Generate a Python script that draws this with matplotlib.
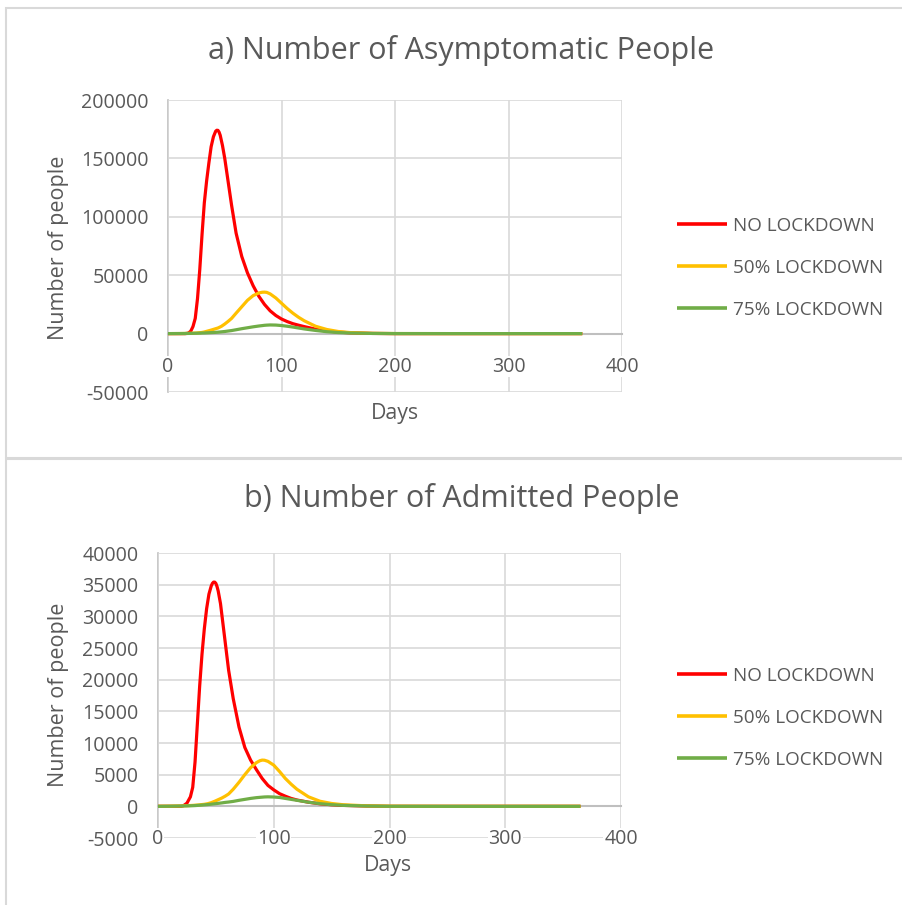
import matplotlib
matplotlib.use("Agg")
import matplotlib.pyplot as plt
from matplotlib.patches import Rectangle

# ---------------- data ----------------
series_names = ["NO LOCKDOWN", "50% LOCKDOWN", "75% LOCKDOWN"]
series_colors = ["#FF0000", "#FFC000", "#70AD47"]

# a) asymptomatic people
days_a_no = [0, 10, 15, 17, 18, 20, 22, 24, 26, 28, 30, 32, 34, 36, 38, 40, 42, 43, 44, 45,
             46, 48, 50, 53, 56, 60, 65, 70, 75, 80, 85, 90, 95, 100, 105, 110, 115, 120,
             130, 140, 150, 160, 180, 200, 250, 300, 365]
asym_no = [0, 0, 0, 200, 500, 2000, 6000, 13000, 30000, 55000, 85000, 112000, 130500,
           146000, 160000, 168500, 173300, 174100, 174000, 172500, 169800, 161000, 150000,
           130000, 110000, 86000, 66000, 52000, 41000, 32000, 25000, 19500, 15500, 12500,
           10300, 8500, 7200, 6000, 3800, 2300, 1300, 700, 150, 0, 0, 0, 0]

days_a = [0, 10, 15, 18, 20, 22, 25, 28, 30, 32, 35, 38, 41, 44, 47, 50, 53, 56, 60, 65,
          70, 75, 80, 83, 85, 87, 90, 95, 100, 105, 110, 115, 120, 130, 140, 150, 160, 180,
          200, 250, 300, 365]
asym_50 = [0, 50, 100, 200, 250, 350, 500, 800, 1000, 1400, 2200, 3000, 3900, 4800, 6200,
           8200, 10500, 13000, 17500, 23000, 28500, 32500, 34800, 35400, 35500, 35300, 34000,
           30500, 26000, 21500, 17500, 14000, 11000, 6300, 3500, 1800, 900, 200, 50, 0, 0, 0]
asym_75 = [0, 50, 100, 150, 200, 250, 300, 400, 500, 550, 700, 850, 1000, 1200, 1500, 1800,
           2200, 2600, 3300, 4200, 5000, 5800, 6500, 6850, 7100, 7250, 7400, 7300, 6900, 6300,
           5600, 4800, 4000, 2700, 1600, 900, 500, 150, 30, 0, 0, 0]

# b) admitted people
days_b_no = [0, 10, 20, 22, 25, 28, 30, 32, 34, 36, 38, 40, 42, 44, 46, 47, 48, 49, 50, 51,
             52, 54, 56, 58, 61, 65, 70, 75, 80, 85, 90, 95, 100, 105, 110, 115, 120, 130,
             140, 150, 160, 180, 200, 250, 300, 365]
adm_no = [0, 0, 0, 100, 500, 1500, 3000, 7000, 13000, 19000, 24000, 28000, 31200, 33500,
          34800, 35200, 35400, 35400, 35200, 34700, 34000, 32000, 29000, 26000, 21500, 17000,
          12500, 9300, 7300, 5800, 4400, 3300, 2600, 2000, 1600, 1250, 1000, 650, 400, 250,
          150, 50, 0, 0, 0, 0]

days_b = [0, 10, 20, 22, 25, 28, 30, 32, 35, 38, 40, 43, 46, 49, 52, 55, 58, 61, 65, 70, 75,
          80, 85, 88, 90, 92, 95, 100, 105, 110, 115, 120, 130, 140, 150, 160, 180, 200,
          250, 300, 365]
adm_50 = [0, 20, 60, 80, 100, 130, 150, 180, 220, 280, 320, 420, 580, 800, 1050, 1300, 1600,
          1950, 2700, 3800, 5000, 6100, 6900, 7200, 7300, 7280, 7100, 6500, 5500, 4400, 3500,
          2700, 1500, 800, 450, 250, 80, 20, 0, 0, 0]
adm_75 = [0, 20, 50, 60, 70, 90, 100, 120, 160, 200, 230, 280, 340, 400, 470, 540, 620, 680,
          780, 950, 1100, 1250, 1370, 1420, 1450, 1480, 1500, 1470, 1400, 1250, 1100, 950,
          650, 420, 260, 150, 50, 10, 0, 0, 0]

x_ticks = [0, 100, 200, 300, 400]
y_ticks_a = [-50000, 0, 50000, 100000, 150000, 200000]
y_ticks_b = [-5000, 0, 5000, 10000, 15000, 20000, 25000, 30000, 35000, 40000]

title_a = "a) Number of Asymptomatic People"
title_b = "b) Number of Admitted People"
xlabel = "Days"
ylabel = "Number of people"

# ---------------- style ----------------
FONT = ["Open Sans", "DejaVu Sans"]
TXT = "#595959"
GRID = "#D9D9D9"
AXIS = "#BFBFBF"
W, H = 902, 905

plt.rcParams["font.family"] = FONT
fig = plt.figure(figsize=(W / 100, H / 100), dpi=100)
fig.patch.set_facecolor("white")
renderer = fig.canvas.get_renderer()


def fx(px):
    return px / W


def fy(py):
    return 1 - py / H


def fit_size(text, target_px, rotation=0):
    """font size (pt) that makes `text` about target_px long"""
    t = fig.text(0, 0, text, fontsize=20, rotation=rotation)
    bb = t.get_window_extent(renderer)
    t.remove()
    length = bb.height if rotation else bb.width
    return 20 * target_px / length


SZ_TITLE = fit_size(title_a, 505)
SZ_YLAB = fit_size(ylabel, 183)
SZ_XLAB = fit_size(xlabel, 48)
SZ_TICK = fit_size("200000", 67.5)
SZ_LEG = fit_size("NO LOCKDOWN", 142)
LEG_PX = SZ_LEG * 100 / 72

# panel borders
for (x0, y0, x1, y1) in [(6, 8, 905, 458), (6, 459, 905, 910)]:
    fig.add_artist(Rectangle((fx(x0), fy(y1)), fx(x1 - x0), (y1 - y0) / H,
                             transform=fig.transFigure, fill=False,
                             edgecolor="#D9D9D9", linewidth=1.5))


def panel(rect_px, xs, ys, yticks, title, title_xy, ylab_xy, xlab_xy, leg_xy):
    l, t, r, b = rect_px
    ax = fig.add_axes([fx(l), fy(b), (r - l) / W, (b - t) / H])
    for d, vals, c, n in zip(xs, ys, series_colors, series_names):
        ax.plot(d, vals, color=c, lw=2.3, label=n, solid_capstyle="butt",
                solid_joinstyle="round")
    ax.set_xlim(x_ticks[0], x_ticks[-1])
    ax.set_ylim(yticks[0], yticks[-1])
    ax.set_xticks(x_ticks)
    ax.set_yticks(yticks)
    ax.set_yticklabels([str(v) for v in yticks])
    ax.grid(True, color=GRID, lw=1.2)
    ax.set_axisbelow(True)
    ax.yaxis.set_zorder(0.3)
    ax.xaxis.set_zorder(0.45)
    for s in ["top", "right"]:
        ax.spines[s].set_visible(False)
    ax.spines["bottom"].set_position(("data", 0))
    ax.spines["bottom"].set_color(AXIS)
    ax.spines["bottom"].set_linewidth(1.5)
    ax.spines["bottom"].set_zorder(0.5)
    ax.spines["left"].set_color(AXIS)
    ax.spines["left"].set_linewidth(1.2)
    ax.spines["left"].set_zorder(0.35)
    ax.tick_params(axis="both", length=0, colors=TXT, labelsize=SZ_TICK)
    ax.tick_params(axis="x", pad=16.5)
    ax.tick_params(axis="y", pad=14)
    for lab in ax.get_xticklabels():
        lab.set_bbox(dict(facecolor="white", edgecolor="none", pad=0.5))
    fig.text(fx(title_xy[0]), fy(title_xy[1]), title, ha="center", va="center",
             fontsize=SZ_TITLE, color=TXT)
    fig.text(fx(ylab_xy[0]), fy(ylab_xy[1]), ylabel, ha="center", va="center",
             rotation=90, fontsize=SZ_YLAB, color=TXT)
    fig.text(fx(xlab_xy[0]), fy(xlab_xy[1]), xlabel, ha="center", va="center",
             fontsize=SZ_XLAB, color=TXT)
    leg = ax.legend(loc="center left", bbox_to_anchor=(fx(leg_xy[0]), fy(leg_xy[1])),
                    bbox_transform=fig.transFigure, frameon=False, fontsize=SZ_LEG,
                    handlelength=50 / LEG_PX, handletextpad=6 / LEG_PX,
                    labelspacing=(46.0 - 1.17 * LEG_PX) / LEG_PX,
                    borderpad=0, borderaxespad=0)
    for tx in leg.get_texts():
        tx.set_color(TXT)
    for ln in leg.get_lines():
        ln.set_linewidth(2.6)
    return ax


panel((168, 100, 622, 392), [days_a_no, days_a, days_a], [asym_no, asym_50, asym_75],
      y_ticks_a, title_a, (461, 50), (58.5, 248), (395, 413), (677, 268))
panel((158, 553, 621, 838), [days_b_no, days_b, days_b], [adm_no, adm_50, adm_75],
      y_ticks_b, title_b, (462, 499), (58.5, 695), (388, 865), (677, 718))

fig.savefig("out.png", dpi=100, facecolor="white")
